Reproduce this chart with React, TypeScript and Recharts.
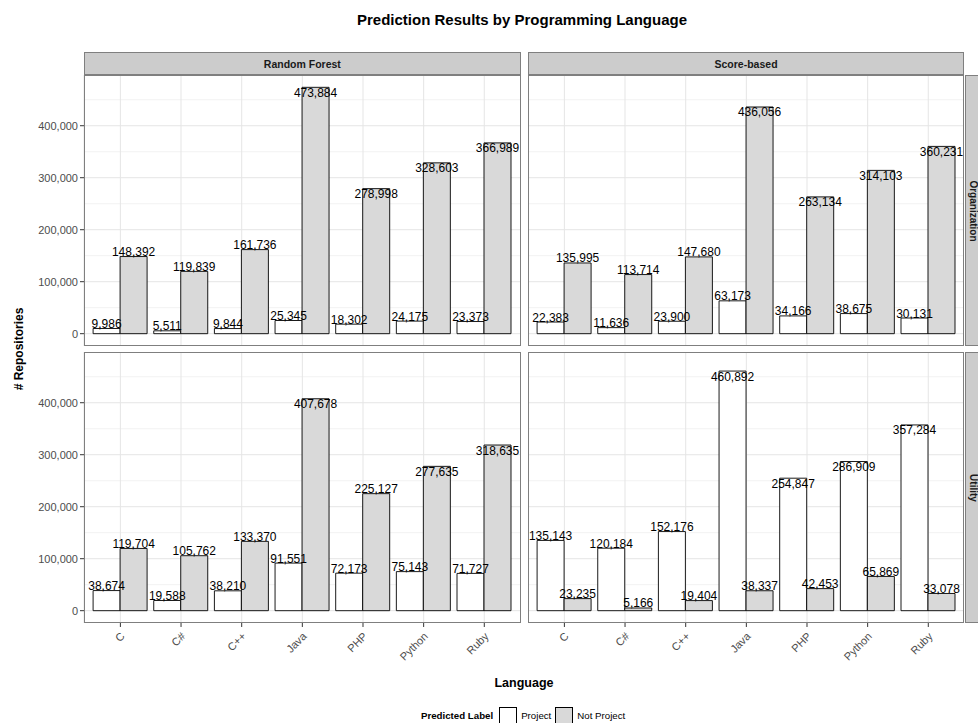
import React from "react";
import { BarChart, Bar, XAxis, YAxis, CartesianGrid, LabelList } from "recharts";

// categories and facets
const languages = ["C", "C#", "C++", "Java", "PHP", "Python", "Ruby"];
const methods = ["Random Forest", "Score-based"];
const rowLabels = ["Organization", "Utility"];
const seriesNames = ["Project", "Not Project"];

// Random Forest / Organization
const rfOrgProject = [9986, 5511, 9844, 25345, 18302, 24175, 23373];
const rfOrgNotProject = [148392, 119839, 161736, 473884, 278998, 328603, 366989];
// Score-based / Organization
const sbOrgProject = [22383, 11636, 23900, 63173, 34166, 38675, 30131];
const sbOrgNotProject = [135995, 113714, 147680, 436056, 263134, 314103, 360231];
// Random Forest / Utility
const rfUtilProject = [38674, 19588, 38210, 91551, 72173, 75143, 71727];
const rfUtilNotProject = [119704, 105762, 133370, 407678, 225127, 277635, 318635];
// Score-based / Utility
const sbUtilProject = [135143, 120184, 152176, 460892, 254847, 286909, 357284];
const sbUtilNotProject = [23235, 5166, 19404, 38337, 42453, 65869, 33078];

const yTicks = [0, 100000, 200000, 300000, 400000];
const yMinor = [50000, 150000, 250000, 350000, 450000];

const panels = [
  [rfOrgProject, rfOrgNotProject, sbOrgProject, sbOrgNotProject],
  [rfUtilProject, rfUtilNotProject, sbUtilProject, sbUtilNotProject],
];

const yMax = Math.max(...panels.flat(2));
const yDomain = [-0.05 * yMax, 1.05 * yMax];
const labelSplit = (yDomain[0] + yDomain[1]) / 2;

const FONT = '"Liberation Sans", Arial, Helvetica, sans-serif';
const PANEL_W = 436.7;
const PANEL_H = 271;
const Y_AXIS_W = 84;
const X_AXIS_H = 50;
const PANEL_X = [84, 527.7];
const PANEL_Y = [75, 352.3];
const STRIP = 22.7;
const PAD = PANEL_W / 7.2 * 0.1;

const fmt = (v: number) => v.toLocaleString("en-US");

const ValueLabel = (props: any) => {
  const { x, y, width, value } = props;
  const inside = value > labelSplit;
  return (
    <text
      x={x + width / 2}
      y={inside ? y + 9.5 : y - 0.5}
      textAnchor="middle"
      fontSize={12}
      fill="#000"
    >
      {fmt(value)}
    </text>
  );
};

const XTick = (props: any) => {
  const { x, y, payload } = props;
  const ax = x + 5;
  const ay = y + 8;
  return (
    <text x={ax} y={ay} transform={`rotate(-45 ${ax} ${ay})`} textAnchor="end" fontSize={11} fill="#4d4d4d">
      {payload.value}
    </text>
  );
};

function Panel({ col, row }: { col: number; row: number }) {
  const isLeft = col === 0;
  const isBottom = row === 1;
  const proj = panels[row][col * 2];
  const notProj = panels[row][col * 2 + 1];
  const data = languages.map((language, i) => ({
    language,
    project: proj[i],
    notProject: notProj[i],
  }));
  const w = (isLeft ? Y_AXIS_W : 0) + PANEL_W;
  const h = PANEL_H + (isBottom ? X_AXIS_H : 0);
  const left = isLeft ? 0 : PANEL_X[1];

  return (
    <div style={{ position: "absolute", left, top: PANEL_Y[row], width: w, height: h }}>
      <BarChart
        width={w}
        height={h}
        data={data}
        margin={{ top: 0, right: 0, bottom: 0, left: 0 }}
        barCategoryGap="5%"
        barGap={0}
      >
        <CartesianGrid horizontalValues={yMinor} vertical={false} stroke="#F2F2F2" strokeWidth={1} />
        <CartesianGrid horizontalValues={yTicks} stroke="#E5E5E5" strokeWidth={1} />
        <XAxis
          dataKey="language"
          padding={{ left: PAD, right: PAD }}
          hide={!isBottom}
          height={X_AXIS_H}
          tick={XTick}
          tickSize={4}
          axisLine={false}
          tickLine={{ stroke: "#333" }}
          interval={0}
        />
        <XAxis xAxisId="lbl" dataKey="language" padding={{ left: PAD, right: PAD }} hide />
        <YAxis
          domain={yDomain}
          ticks={yTicks}
          allowDataOverflow
          hide={!isLeft}
          width={Y_AXIS_W}
          tickFormatter={fmt}
          tickSize={4}
          axisLine={false}
          tick={{ fontSize: 11, fill: "#4d4d4d" }}
          tickLine={{ stroke: "#333" }}
        />
        <Bar dataKey="project" name={seriesNames[0]} fill="#FFFFFF" stroke="#000" strokeWidth={0.9} isAnimationActive={false} />
        <Bar dataKey="notProject" name={seriesNames[1]} fill="#D9D9D9" stroke="#000" strokeWidth={0.9} isAnimationActive={false} />
        <Bar xAxisId="lbl" dataKey="project" fill="none" stroke="none" isAnimationActive={false}>
          <LabelList dataKey="project" content={ValueLabel} />
        </Bar>
        <Bar xAxisId="lbl" dataKey="notProject" fill="none" stroke="none" isAnimationActive={false}>
          <LabelList dataKey="notProject" content={ValueLabel} />
        </Bar>
      </BarChart>
      <div
        style={{
          position: "absolute",
          left: isLeft ? Y_AXIS_W : 0,
          top: 0,
          width: PANEL_W,
          height: PANEL_H,
          border: "1px solid #7F7F7F",
          boxSizing: "border-box",
          pointerEvents: "none",
        }}
      />
    </div>
  );
}

export default function App() {
  return (
    <div
      style={{
        position: "absolute",
        left: 0,
        top: 0,
        width: 978,
        height: 723,
        overflow: "hidden",
        background: "#fff",
        fontFamily: FONT,
        color: "#000",
      }}
    >
      <div
        style={{
          position: "absolute",
          left: 222,
          width: 600,
          top: 10,
          lineHeight: "20px",
          textAlign: "center",
          fontWeight: "bold",
          fontSize: 15,
        }}
      >
        Prediction Results by Programming Language
      </div>

      {methods.map((m, c) => (
        <div
          key={m}
          style={{
            position: "absolute",
            left: PANEL_X[c],
            top: PANEL_Y[0] - STRIP,
            width: PANEL_W,
            height: STRIP,
            background: "#CCCCCC",
            border: "1px solid #7F7F7F",
            boxSizing: "border-box",
            fontWeight: "bold",
            fontSize: 10.5,
            color: "#1a1a1a",
            display: "flex",
            alignItems: "center",
            justifyContent: "center",
          }}
        >
          {m}
        </div>
      ))}

      {rowLabels.map((r, i) => (
        <div
          key={r}
          style={{
            position: "absolute",
            left: PANEL_X[1] + PANEL_W + 1,
            top: PANEL_Y[i],
            width: 13,
            height: PANEL_H,
            background: "#CCCCCC",
            borderLeft: "1px solid #7F7F7F",
            borderTop: "1px solid #7F7F7F",
            borderBottom: "1px solid #7F7F7F",
            boxSizing: "border-box",
          }}
        >
          <div
            style={{
              position: "absolute",
              left: 7,
              top: "50%",
              transform: "translate(-50%, -50%) rotate(90deg)",
              fontWeight: "bold",
              fontSize: 10,
              color: "#1a1a1a",
              whiteSpace: "nowrap",
            }}
          >
            {r}
          </div>
        </div>
      ))}

      {[0, 1].map((row) => [0, 1].map((col) => <Panel key={`${row}-${col}`} col={col} row={row} />))}

      <div
        style={{
          position: "absolute",
          left: 19,
          top: 349,
          transform: "translate(-50%, -50%) rotate(-90deg)",
          fontWeight: "bold",
          fontSize: 12,
          whiteSpace: "nowrap",
        }}
      >
        # Repositories
      </div>

      <div
        style={{
          position: "absolute",
          left: 424,
          width: 200,
          top: 675,
          lineHeight: "16px",
          textAlign: "center",
          fontWeight: "bold",
          fontSize: 12.5,
        }}
      >
        Language
      </div>

      <div
        style={{
          position: "absolute",
          left: 421,
          top: 706.5,
          height: 18,
          display: "flex",
          alignItems: "center",
          fontSize: 9.7,
        }}
      >
        <span style={{ fontWeight: "bold", marginRight: 6 }}>Predicted Label</span>
        {seriesNames.map((s, i) => (
          <React.Fragment key={s}>
            <span
              style={{
                display: "inline-block",
                width: 18,
                height: 18,
                boxSizing: "border-box",
                border: "1px solid #000",
                background: i === 0 ? "#FFFFFF" : "#D9D9D9",
                marginRight: 4,
              }}
            />
            <span style={{ marginRight: 4 }}>{s}</span>
          </React.Fragment>
        ))}
      </div>
    </div>
  );
}
